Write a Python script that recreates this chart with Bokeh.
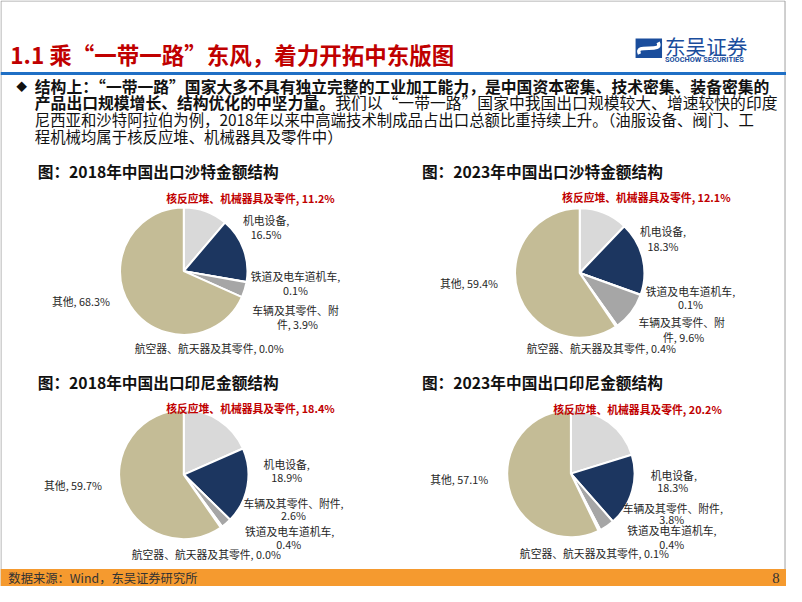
import numpy as np
from bokeh.plotting import figure
from bokeh.models import Range1d, ColumnDataSource
from bokeh.embed import file_html
from bokeh.resources import INLINE
from bokeh.core.properties import value

# ---------------- data ----------------
slide_title = "1.1 乘“一带一路”东风，着力开拓中东版图"
para_bold_1 = "结构上：“一带一路”国家大多不具有独立完整的工业加工能力，是中国资本密集、技术密集、装备密集的"
para_bold_2 = "产品出口规模增长、结构优化的中坚力量。"
para_norm_2 = "我们以“一带一路”国家中我国出口规模较大、增速较快的印度"
para_norm_3 = "尼西亚和沙特阿拉伯为例，2018年以来中高端技术制成品占出口总额比重持续上升。（油服设备、阀门、工"
para_norm_4 = "程机械均属于核反应堆、机械器具及零件中）"
source_note = "数据来源：Wind，东吴证券研究所"
page_number = "8"
logo_cn = "东吴证券"
logo_en = "SOOCHOW SECURITIES"

chart_titles = ["图：2018年中国出口沙特金额结构", "图：2023年中国出口沙特金额结构",
                "图：2018年中国出口印尼金额结构", "图：2023年中国出口印尼金额结构"]
cats_saudi = ["核反应堆、机械器具及零件", "机电设备", "铁道及电车道机车",
              "车辆及其零件、附件", "航空器、航天器及其零件", "其他"]
cats_indo = ["核反应堆、机械器具及零件", "机电设备", "车辆及其零件、附件",
             "铁道及电车道机车", "航空器、航天器及其零件", "其他"]
saudi_2018 = [11.2, 16.5, 0.1, 3.9, 0.0, 68.3]
saudi_2023 = [12.1, 18.3, 0.1, 9.6, 0.4, 59.4]
indo_2018 = [18.4, 18.9, 2.6, 0.4, 0.0, 59.7]
indo_2023 = [20.2, 18.3, 3.8, 0.4, 0.1, 57.1]

# ---------------- styles ----------------
cat_colors = {
    "核反应堆、机械器具及零件": "#D9D9D9",
    "机电设备": "#1C3660",
    "铁道及电车道机车": "#7F7F7F",
    "车辆及其零件、附件": "#A6A6A6",
    "航空器、航天器及其零件": "#595959",
    "其他": "#C4BC96",
}
FONT = value("Noto Sans CJK SC")
W, H = 802, 602          # slide coordinate system
PW, PH = 786, 586        # figure size in the page
S = PW / W               # pixel scale for fonts


def Y(y):
    return H - y


p = figure(width=PW, height=PH,
           x_range=Range1d(0, W), y_range=Range1d(0, H),
           output_backend="svg", toolbar_location=None, min_border=0,
           x_axis_location=None, y_axis_location=None)
p.grid.visible = False
p.outline_line_color = None
p.background_fill_color = "white"
p.border_fill_color = "white"


def txt(x, y, s, size, color="#1a1a1a", style="normal", align="left", font=FONT):
    p.text(x=[x], y=[Y(y)], text=[s], text_font=font,
           text_font_size=value(f"{size * S:.1f}px"),
           text_color=color, text_font_style=style, text_align=align,
           text_baseline="middle")


# slide frame
p.line(x=[0.5, 0.5, 800.5, 800.5], y=[Y(602), Y(0.5), Y(0.5), Y(602)],
       line_color="#A0A0A0", line_width=1)

# ---------------- header ----------------
txt(10, 55, slide_title, 23, color="#C00000", style="bold")
p.quad(left=[0], right=[W], top=[Y(73.5)], bottom=[Y(76.5)],
       fill_color="#1F6FC5", line_color=None)

# logo
p.quad(left=[648], right=[675], top=[Y(39)], bottom=[Y(59)],
       fill_color="#1A4D9C", line_color=None)
p.bezier(x0=[652], y0=[Y(55)], x1=[671], y1=[Y(43)], cx0=[646], cy0=[Y(43)],
         cx1=[677], cy1=[Y(55)], line_color="white", line_width=3.5)
txt(678, 47, logo_cn, 21, color="#1A4D9C")
txt(678, 61, logo_en, 7.5, color="#1A4D9C", style="bold", font=value("Roboto"))

# ---------------- paragraph ----------------
def em_count(s):
    n = 0.0
    for c in s:
        if c in "“”":
            n += 0.5
        elif ord(c) < 256:
            n += 0.55
        else:
            n += 1.0
    return n


LEFT, RIGHT = 35, 777
txt(16, 88, "◆", 11, color="#111111")
fs1 = (RIGHT - LEFT) / em_count(para_bold_1)
fs2 = (RIGHT - LEFT) / em_count(para_bold_2 + para_norm_2)
fs3 = (RIGHT - LEFT) / em_count(para_norm_3)
txt(LEFT, 88, para_bold_1, fs1, color="#111111", style="bold")
txt(LEFT, 105, para_bold_2, fs2, color="#111111", style="bold")
txt(LEFT + em_count(para_bold_2) * fs2, 105, para_norm_2, fs2, color="#111111")
txt(LEFT, 122, para_norm_3, fs3, color="#111111")
txt(LEFT, 139, para_norm_4, fs3, color="#111111")

# ---------------- pies ----------------
charts = [
    dict(cats=cats_saudi, vals=saudi_2018, title=chart_titles[0], title_xy=(38, 176),
         center=(187, 278), r=65,
         labels={0: ("one", [(255, 203)]), 1: ("comma", [(271, 226), (271, 240)]),
                 2: ("comma", [(301, 283), (301, 297)]), 3: ("wrap8", [(301, 318), (303, 332)]),
                 4: ("one", [(213, 357)]), 5: ("one", [(82, 309)])}),
    dict(cats=cats_saudi, vals=saudi_2023, title=chart_titles[1], title_xy=(430, 176),
         center=(591, 280), r=66,
         labels={0: ("one", [(659, 202)]), 1: ("comma", [(676, 237), (676, 252)]),
                 2: ("comma", [(704, 298), (704, 312)]), 3: ("wrap8", [(695, 330), (697, 346)]),
                 4: ("one", [(613, 357)]), 5: ("one", [(478, 290)])}),
    dict(cats=cats_indo, vals=indo_2018, title=chart_titles[2], title_xy=(38, 392),
         center=(187, 487), r=66,
         labels={0: ("one", [(255, 419)]), 1: ("comma", [(292, 476), (292, 489)]),
                 2: ("comma", [(299, 516), (299, 529)]), 3: ("comma", [(295, 545), (294, 558)]),
                 4: ("one", [(210, 569)]), 5: ("one", [(74, 498)])}),
    dict(cats=cats_indo, vals=indo_2023, title=chart_titles[3], title_xy=(430, 392),
         center=(582, 486), r=65,
         labels={0: ("one", [(650, 420)]), 1: ("comma", [(687, 487), (686, 500)]),
                 2: ("comma", [(686, 521), (685, 533)]), 3: ("comma", [(685, 544), (685, 558)]),
                 4: ("one", [(606, 568)]), 5: ("one", [(468, 492)])}),
]


def label_lines(cat, v, mode):
    full = f"{cat}, {v:.1f}%"
    if mode == "comma":
        return [f"{cat},", f"{v:.1f}%"]
    if mode == "wrap8":
        return [full[:8], full[8:]]
    return [full]


for ch in charts:
    tx, ty = ch["title_xy"]
    txt(tx, ty, ch["title"], 16, color="#111111", style="bold")
    vals = np.array(ch["vals"], dtype=float)
    frac = vals / vals.sum()
    cum = np.concatenate([[0.0], np.cumsum(frac)])
    start = np.pi / 2 - 2 * np.pi * cum[:-1]
    end = np.pi / 2 - 2 * np.pi * cum[1:]
    keep = vals > 0
    cx, cy = ch["center"]
    src = ColumnDataSource(dict(
        start=start[keep], end=end[keep],
        color=[cat_colors[c] for c, k in zip(ch["cats"], keep) if k]))
    p.wedge(x=cx, y=Y(cy), radius=ch["r"], start_angle="start", end_angle="end",
            direction="clock", fill_color="color", line_color="white", line_width=2,
            source=src)
    for i, (mode, pos) in ch["labels"].items():
        lines = label_lines(ch["cats"][i], ch["vals"][i], mode)
        red = (i == 0)
        for s, (lx, ly) in zip(lines, pos):
            txt(lx, ly, s, 11, color="#C00000" if red else "#262626",
                style="bold" if red else "normal", align="center")

# ---------------- footer ----------------
p.quad(left=[0], right=[W], top=[Y(584)], bottom=[Y(602)],
       fill_color="#F59A2F", line_color=None)
txt(8, 593, source_note, 12.5, color="#333333")
txt(795, 593, page_number, 15, color="#333333", align="right",
    font=value("Liberation Serif"))

open("out.html", "w").write(file_html(p, INLINE))
